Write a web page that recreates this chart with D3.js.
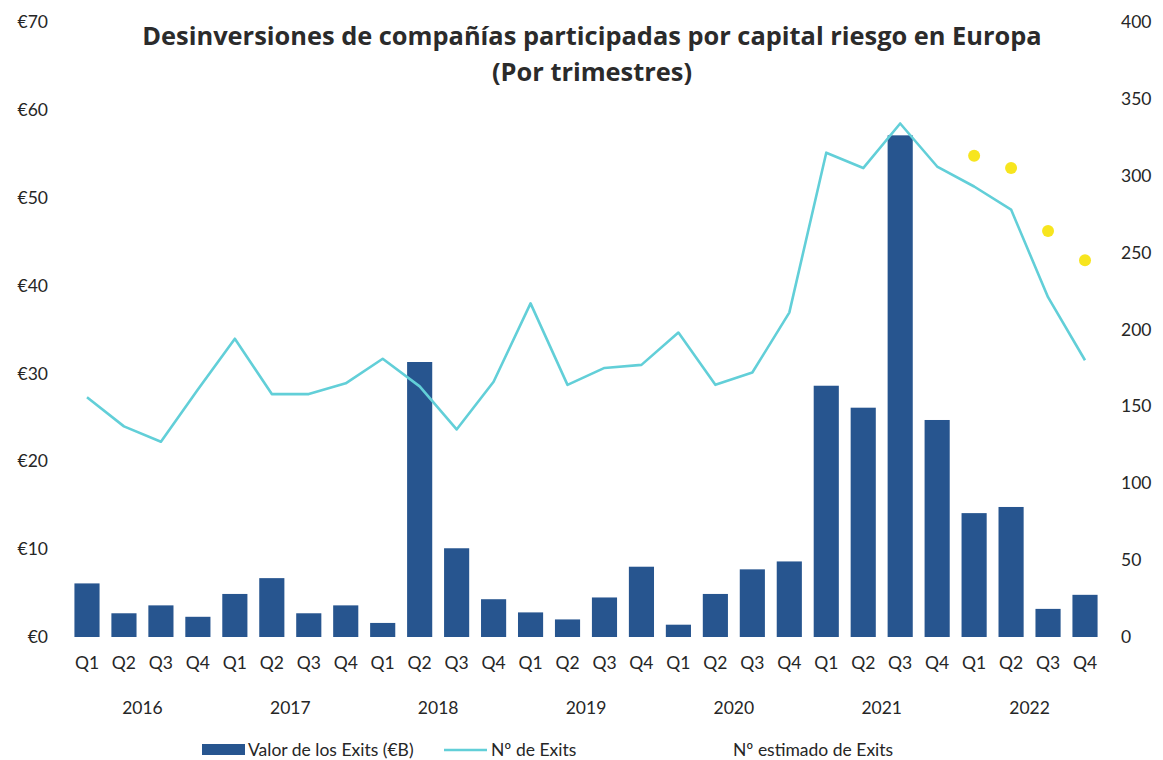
<!DOCTYPE html>
<html>
<head>
<meta charset="utf-8">
<script src="https://cdn.jsdelivr.net/npm/d3@7"></script>
<style>
  body { margin: 0; background: #fff; }
  svg text { font-family: Lato, "Open Sans", sans-serif; fill: #262626; }
</style>
</head>
<body>
<svg id="chart" width="1163" height="760"></svg>
<script>
// quarters 2016 Q1 .. 2022 Q4
var years = ["2016", "2017", "2018", "2019", "2020", "2021", "2022"];
var quarters = ["Q1", "Q2", "Q3", "Q4"];

// Valor de los Exits (€B)
var exitValue = [6.1, 2.7, 3.6, 2.3, 4.9, 6.7, 2.7, 3.6,
                 1.6, 31.3, 10.1, 4.3, 2.8, 2.0, 4.5, 8.0,
                 1.4, 4.9, 7.7, 8.6, 28.6, 26.1, 57.1, 24.7,
                 14.1, 14.8, 3.2, 4.8];

// Nº de Exits
var exitCount = [156, 137, 127, 161, 194, 158, 158, 165,
                 181, 163, 135, 166, 217, 164, 175, 177,
                 198, 164, 172, 211, 315, 305, 334, 306,
                 293, 278, 221, 180];

// Nº estimado de Exits (2022 only)
var estimated = [{ i: 24, v: 313 }, { i: 25, v: 305 }, { i: 26, v: 264 }, { i: 27, v: 245 }];

var leftTicks = [0, 10, 20, 30, 40, 50, 60, 70];
var rightTicks = [0, 50, 100, 150, 200, 250, 300, 350, 400];

var BAR = "#27558f", LINE = "#62cfd8", DOT = "#f7e51e";

var svg = d3.select("#chart");

var idx = d3.range(exitValue.length);
var x = d3.scaleBand().domain(idx).range([62.6, 1109.4]).padding(0.32);
var yL = d3.scaleLinear().domain([0, 70]).range([637, 22]);
var yR = d3.scaleLinear().domain([0, 400]).range([637, 22]);

// title
[["Desinversiones de compañías participadas por capital riesgo en Europa", 45],
 ["(Por trimestres)", 81]].forEach(function(t) {
    svg.append("text")
        .attr("x", 592).attr("y", t[1])
        .attr("text-anchor", "middle")
        .style("font-family", "'Open Sans', sans-serif")
        .style("font-weight", "bold").style("font-size", "25.4px")
        .style("fill", "#2b2b2b")
        .text(t[0]);
});

// axes
var gL = svg.append("g").attr("transform", "translate(48,0)")
    .call(d3.axisLeft(yL).tickValues(leftTicks).tickSize(0).tickPadding(0)
        .tickFormat(function(d) { return "€" + d; }));
var gR = svg.append("g").attr("transform", "translate(1121,0)")
    .call(d3.axisRight(yR).tickValues(rightTicks).tickSize(0).tickPadding(0));
[gL, gR].forEach(function(g) {
    g.select(".domain").remove();
    g.selectAll("text").style("font-size", "17.5px").style("font-family", "Lato, sans-serif").attr("fill", "#262626");
});

// bars
svg.append("g").selectAll("rect")
    .data(exitValue)
    .enter()
    .append("rect")
    .attr("x", function(d, i) { return x(i); })
    .attr("y", function(d) { return yL(d); })
    .attr("width", x.bandwidth())
    .attr("height", function(d) { return yL(0) - yL(d); })
    .attr("fill", BAR);

// line
var line = d3.line()
    .x(function(d, i) { return x(i) + x.bandwidth() / 2; })
    .y(function(d) { return yR(d); });
svg.append("path")
    .datum(exitCount)
    .attr("d", line)
    .attr("fill", "none")
    .attr("stroke", LINE)
    .attr("stroke-width", 2.6)
    .attr("stroke-linejoin", "round");

// estimated dots
svg.append("g").selectAll("circle")
    .data(estimated)
    .enter()
    .append("circle")
    .attr("cx", function(d) { return x(d.i) + x.bandwidth() / 2; })
    .attr("cy", function(d) { return yR(d.v); })
    .attr("r", 6)
    .attr("fill", DOT);

// quarter labels
svg.append("g").selectAll("text")
    .data(idx)
    .enter()
    .append("text")
    .attr("x", function(i) { return x(i) + x.bandwidth() / 2; })
    .attr("y", 669)
    .attr("text-anchor", "middle")
    .style("font-size", "17.5px")
    .text(function(i) { return quarters[i % 4]; });

// year labels, centred between Q2 and Q3
svg.append("g").selectAll("text")
    .data(years)
    .enter()
    .append("text")
    .attr("x", function(d, k) { return (x(k * 4 + 1) + x(k * 4 + 2)) / 2 + x.bandwidth() / 2; })
    .attr("y", 714)
    .attr("text-anchor", "middle")
    .style("font-size", "17.5px")
    .text(function(d) { return d; });

// legend
var lg = svg.append("g");
lg.append("rect").attr("x", 202).attr("y", 744).attr("width", 43).attr("height", 11).attr("fill", BAR);
lg.append("text").attr("x", 248).attr("y", 756).style("font-size", "17.5px").text("Valor de los Exits (€B)");
lg.append("line").attr("x1", 444).attr("x2", 487).attr("y1", 750).attr("y2", 750)
    .attr("stroke", LINE).attr("stroke-width", 2.6);
lg.append("text").attr("x", 491).attr("y", 756).style("font-size", "17.5px").text("Nº de Exits");
lg.append("text").attr("x", 733).attr("y", 756).style("font-size", "17.5px").text("Nº estimado de Exits");
</script>
</body>
</html>
